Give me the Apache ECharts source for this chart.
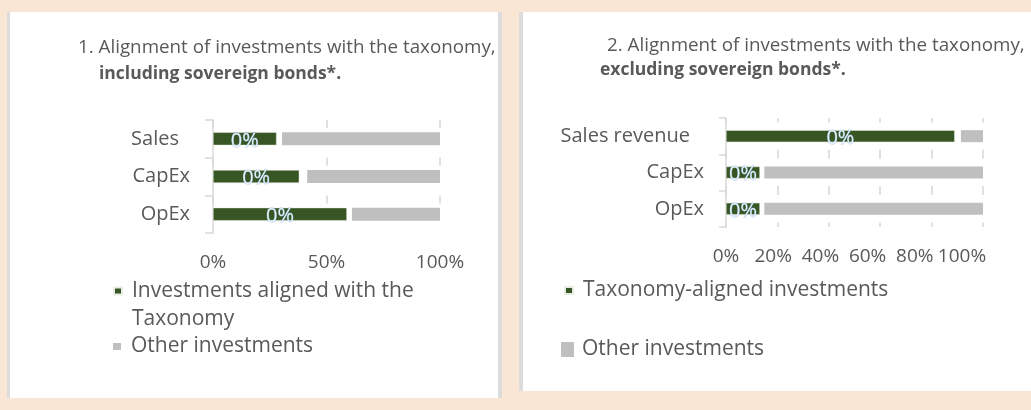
<!DOCTYPE html>
<html>
<head>
<meta charset="utf-8">
<script src="https://cdn.jsdelivr.net/npm/echarts@6/dist/echarts.min.js"></script>
<style>
html,body{margin:0;padding:0;background:#fae6d5;}
#c{width:1031px;height:410px;}
</style>
</head>
<body>
<div id="c"></div>
<script>
// ---- data ----
const leftCategories = ['Sales', 'CapEx', 'OpEx'];
const leftAligned = [28, 38, 59];
const leftGap = [2.4, 3.5, 2.2];
const leftOther = [69.6, 58.5, 38.8];
const leftLabels = ['0%', '0%', '0%'];
const leftTicks = [0, 50, 100];

const rightCategories = ['Sales revenue', 'CapEx', 'OpEx'];
const rightAligned = [89, 13.2, 13.2];
const rightGap = [2.4, 1.7, 1.7];
const rightOther = [8.6, 85.1, 85.1];
const rightLabels = ['0%', '0%', '0%'];
const rightTicks = [0, 20, 40, 60, 80, 100];

const leftTitle1 = '1. Alignment of investments with the taxonomy,';
const leftTitle2 = 'including sovereign bonds*.';
const rightTitle1 = '2. Alignment of investments with the taxonomy,';
const rightTitle2 = 'excluding sovereign bonds*.';
const leftSeriesNames = ['Investments aligned with the Taxonomy', 'Other investments'];
const rightSeriesNames = ['Taxonomy-aligned investments', 'Other investments '];

// ---- style ----
const FONT = '"Open Sans", Lato, sans-serif';
const TXT = '#595959';
const GREEN = '#375623';
const GREY = '#bfbfbf';

const chart = echarts.init(document.getElementById('c'));

function catData(cats, firstPad) {
  return cats.map((c, i) => i === 0 ? { value: c, textStyle: { padding: [0, firstPad, 0, 0] } } : c);
}

const labelStyle = (arr) => ({
  show: true, position: 'inside', fontFamily: FONT, fontSize: 20, offset: [0, 2],
  color: '#e6f1fb', textBorderColor: 'rgba(120,170,220,0.6)', textBorderWidth: 0.8,
  formatter: p => arr[p.dataIndex]
});

const titleStyle = (w, s) => ({ fontFamily: FONT, fontSize: s, fontWeight: w, color: TXT, lineHeight: 20 });
const legendText = (padL, lh) => ({ fontFamily: FONT, fontSize: 21, color: TXT, lineHeight: lh, padding: [0, 0, 0, padL] });

const option = {
  animation: false,
  backgroundColor: '#fae6d5',
  graphic: [
    { type: 'rect', z: -10, shape: { x: 7, y: 12, width: 495, height: 386 }, style: { fill: '#dcdcdc' }, silent: true },
    { type: 'rect', z: -9, shape: { x: 10, y: 12, width: 488, height: 386 }, style: { fill: '#ffffff' }, silent: true },
    { type: 'rect', z: -10, shape: { x: 519, y: 12, width: 520, height: 379 }, style: { fill: '#dcdcdc' }, silent: true },
    { type: 'rect', z: -9, shape: { x: 523, y: 12, width: 520, height: 379 }, style: { fill: '#ffffff' }, silent: true }
  ],
  title: [
    { text: leftTitle1, left: 78, top: 38, padding: 0, textStyle: titleStyle('normal', 18.8) },
    { text: leftTitle2, left: 99, top: 64, padding: 0, textStyle: titleStyle('bold', 17.5) },
    { text: rightTitle1, left: 607, top: 36, padding: 0, textStyle: titleStyle('normal', 18.8) },
    { text: rightTitle2, left: 600, top: 60, padding: 0, textStyle: titleStyle('bold', 17.5) }
  ],
  legend: [
    { data: [leftSeriesNames[0]], left: 113, top: 249, padding: 0, icon: 'rect', itemWidth: 8, itemHeight: 7,
      formatter: () => '\nInvestments aligned with the\nTaxonomy',
      textStyle: legendText(5, 28) },
    { data: [leftSeriesNames[1]], left: 113, top: 333, padding: 0, icon: 'rect', itemWidth: 8, itemHeight: 7,
      textStyle: legendText(5, 27) },
    { data: [rightSeriesNames[0]], left: 564, top: 277, padding: 0, icon: 'rect', itemWidth: 8, itemHeight: 7,
      textStyle: legendText(5, 27) },
    { data: [rightSeriesNames[1]], left: 561, top: 336, padding: 0, icon: 'rect', itemWidth: 13, itemHeight: 15,
      formatter: n => n.trim(),
      textStyle: legendText(3, 27) }
  ],
  grid: [
    { left: 213, top: 120, width: 227, height: 113 },
    { left: 726, top: 118, width: 257, height: 109 },
    { left: 726, top: 118, width: 236, height: 109 }
  ],
  xAxis: [
    { gridIndex: 0, type: 'value', min: leftTicks[0], max: leftTicks[leftTicks.length - 1], interval: leftTicks[1] - leftTicks[0],
      axisLine: { show: false }, axisTick: { show: false },
      axisLabel: { formatter: '{value}%', fontFamily: FONT, fontSize: 19, color: TXT, margin: 20 },
      splitLine: { show: true, lineStyle: { color: '#d6d6d6', width: 1.5, type: [8, 29.7], dashOffset: 0 } } },
    { gridIndex: 1, type: 'value', min: rightTicks[0], max: rightTicks[rightTicks.length - 1], interval: rightTicks[1] - rightTicks[0],
      axisLine: { show: false }, axisTick: { show: false }, axisLabel: { show: false },
      splitLine: { show: true, lineStyle: { color: '#d6d6d6', width: 1.5, type: [9, 27.3], dashOffset: 4.5 } } },
    // tick labels of chart 2 (Excel packs them slightly tighter than the gridlines)
    { gridIndex: 2, type: 'value', min: rightTicks[0], max: rightTicks[rightTicks.length - 1], interval: rightTicks[1] - rightTicks[0],
      axisLine: { show: false }, axisTick: { show: false }, splitLine: { show: false },
      axisLabel: { formatter: '{value}%', fontFamily: FONT, fontSize: 19, color: TXT, margin: 20 } }
  ],
  yAxis: [
    { gridIndex: 0, type: 'category', inverse: true, data: catData(leftCategories, 11),
      axisLine: { show: true, lineStyle: { color: '#d9d9d9', width: 1.5 } },
      axisTick: { show: true, length: 8, lineStyle: { color: '#d9d9d9', width: 1.5 } },
      axisLabel: { fontFamily: FONT, fontSize: 20, color: TXT, margin: 23 } },
    { gridIndex: 1, type: 'category', inverse: true, data: catData(rightCategories, 14),
      axisLine: { show: true, lineStyle: { color: '#d9d9d9', width: 1.5 } },
      axisTick: { show: true, length: 7, lineStyle: { color: '#d9d9d9', width: 1.5 } },
      axisLabel: { fontFamily: FONT, fontSize: 20, color: TXT, margin: 22 } },
    { gridIndex: 2, type: 'category', data: rightCategories, show: false }
  ],
  series: [
    { name: leftSeriesNames[0], type: 'bar', stack: 'L', xAxisIndex: 0, yAxisIndex: 0, barWidth: 13,
      data: leftAligned, itemStyle: { color: GREEN, borderColor: '#e8ede4', borderWidth: 0.5 }, label: labelStyle(leftLabels) },
    { name: 'gapL', type: 'bar', stack: 'L', xAxisIndex: 0, yAxisIndex: 0, barWidth: 13,
      data: leftGap, itemStyle: { color: 'rgba(0,0,0,0)' }, silent: true },
    { name: leftSeriesNames[1], type: 'bar', stack: 'L', xAxisIndex: 0, yAxisIndex: 0, barWidth: 13,
      data: leftOther, itemStyle: { color: GREY } },
    { name: rightSeriesNames[0], type: 'bar', stack: 'R', xAxisIndex: 1, yAxisIndex: 1, barWidth: 12,
      data: rightAligned, itemStyle: { color: GREEN, borderColor: '#e8ede4', borderWidth: 0.5 }, label: labelStyle(rightLabels) },
    { name: 'gapR', type: 'bar', stack: 'R', xAxisIndex: 1, yAxisIndex: 1, barWidth: 12,
      data: rightGap, itemStyle: { color: 'rgba(0,0,0,0)' }, silent: true },
    { name: rightSeriesNames[1], type: 'bar', stack: 'R', xAxisIndex: 1, yAxisIndex: 1, barWidth: 12,
      data: rightOther, itemStyle: { color: GREY } }
  ]
};
chart.setOption(option);
</script>
</body>
</html>
